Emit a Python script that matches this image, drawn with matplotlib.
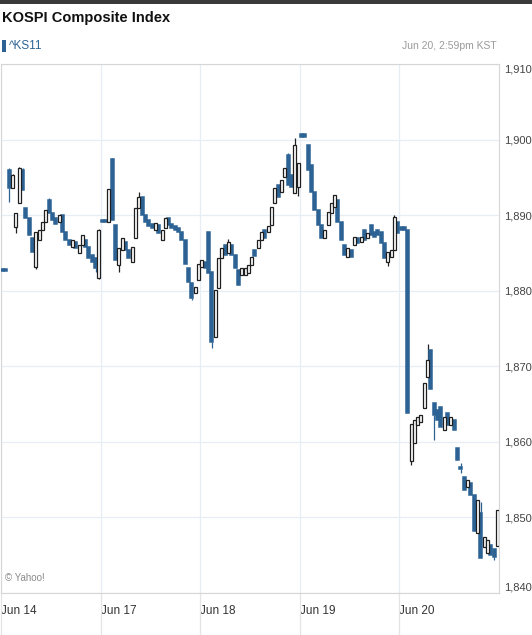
import matplotlib
matplotlib.use("Agg")
import matplotlib.pyplot as plt
from matplotlib.patches import Rectangle

# ---------------- data ----------------
days = ["Jun 14", "Jun 17", "Jun 18", "Jun 19", "Jun 20"]
yticks = [1840, 1850, 1860, 1870, 1880, 1890, 1900, 1910]

jun14_open = [1882.6, 1882.6, 1896.0, 1893.6, 1888.4, 1891.6, 1896.0, 1891.0, 1889.6, 1887.0,
              1883.1, 1886.7, 1888.0, 1889.1, 1892.0, 1890.3, 1889.6, 1889.1, 1890.0, 1887.8,
              1886.7, 1885.8, 1886.4, 1885.0, 1886.0, 1886.7, 1885.8, 1884.7, 1884.3, 1881.7]
jun14_close = [1882.6, 1882.6, 1893.6, 1895.3, 1890.3, 1896.2, 1893.3, 1889.6, 1887.4, 1885.1,
               1887.8, 1888.0, 1889.1, 1890.7, 1890.3, 1889.3, 1888.8, 1890.0, 1887.8, 1886.7,
               1886.0, 1886.7, 1885.6, 1886.0, 1887.4, 1885.8, 1884.3, 1883.8, 1883.0, 1888.0]
jun14_high = {2: 1896.2, 3: 1895.5, 5: 1896.4, 6: 1896.2, 14: 1892.3, 29: 1888.2}
jun14_low = {2: 1891.8, 4: 1887.6, 10: 1882.9, 28: 1882.5, 29: 1881.5}

jun17_open = [1889.1, 1889.1, 1889.1, 1897.4, 1888.7, 1883.4, 1885.4, 1886.4, 1885.4, 1883.8,
              1887.0, 1891.0, 1892.4, 1890.0, 1889.3, 1888.8, 1888.0, 1888.7, 1886.7, 1888.3,
              1889.6, 1888.8, 1888.5, 1888.3, 1887.8, 1886.7, 1883.0, 1881.0, 1879.7, 1881.4]
jun17_close = [1889.1, 1889.1, 1893.5, 1889.3, 1884.0, 1885.6, 1887.0, 1885.4, 1884.3, 1885.8,
               1891.0, 1892.4, 1890.0, 1889.1, 1888.5, 1888.3, 1888.9, 1887.6, 1888.0, 1889.6,
               1888.7, 1888.3, 1888.0, 1887.8, 1886.7, 1883.6, 1881.1, 1879.0, 1880.5, 1883.6]
jun17_high = {3: 1897.6, 11: 1893.0}
jun17_low = {5: 1882.5, 27: 1878.8}

jun18_open = [1883.1, 1883.8, 1887.8, 1882.5, 1873.9, 1880.3, 1884.3, 1886.0, 1885.0, 1886.0,
              1884.7, 1882.7, 1882.1, 1882.1, 1882.3, 1883.4, 1885.4, 1885.6, 1886.7, 1888.0,
              1887.8, 1888.7, 1891.6, 1894.0, 1893.0, 1895.0, 1898.0, 1895.3, 1892.9, 1893.7]
jun18_close = [1884.1, 1883.0, 1882.3, 1873.2, 1880.1, 1884.3, 1885.6, 1884.7, 1886.4, 1884.7,
               1883.0, 1880.7, 1883.0, 1883.0, 1883.4, 1884.4, 1884.6, 1886.7, 1887.8, 1887.0,
               1888.5, 1891.1, 1893.6, 1892.4, 1894.6, 1896.2, 1894.0, 1893.7, 1899.3, 1896.9]
jun18_high = {8: 1886.9, 26: 1898.2, 28: 1900.2}
jun18_low = {3: 1872.4, 29: 1892.5}

jun19_open = [1900.4, 1900.4, 1899.3, 1896.6, 1893.1, 1890.7, 1888.7, 1887.0, 1888.7, 1890.3,
              1891.1, 1892.0, 1889.1, 1886.0, 1884.4, 1885.4, 1886.0, 1887.0, 1886.4, 1888.0,
              1887.0, 1888.7, 1887.8, 1888.0, 1887.8, 1886.3, 1883.8, 1884.4, 1885.4, 1889.1]
jun19_close = [1900.4, 1900.4, 1896.0, 1893.0, 1890.7, 1888.7, 1887.0, 1888.0, 1890.4, 1891.6,
               1892.6, 1889.1, 1886.7, 1884.7, 1885.6, 1884.4, 1887.1, 1886.3, 1887.1, 1886.7,
               1887.6, 1887.4, 1887.1, 1887.4, 1886.3, 1884.3, 1885.1, 1885.4, 1889.7, 1887.6]
jun19_high = {28: 1890.0}
jun19_low = {26: 1883.3}

jun20_open = [1888.1, 1888.1, 1888.1, 1857.5, 1859.8, 1862.2, 1862.6, 1864.5, 1868.6, 1872.1,
              1865.1, 1864.2, 1864.6, 1861.6, 1863.8, 1862.2, 1862.9, 1859.2, 1856.6, 1855.3,
              1854.0, 1854.6, 1853.0, 1848.0, 1850.6, 1846.1, 1845.3, 1846.4, 1845.8, 1846.2]
jun20_close = [1888.1, 1888.1, 1863.8, 1862.4, 1862.9, 1863.3, 1863.5, 1867.8, 1870.8, 1867.0,
               1863.6, 1862.9, 1862.0, 1863.3, 1862.2, 1863.3, 1861.6, 1857.6, 1856.4, 1853.6,
               1855.0, 1853.0, 1848.2, 1852.3, 1844.6, 1847.4, 1847.0, 1845.0, 1844.8, 1851.0]
jun20_high = {8: 1873.0, 18: 1857.2, 24: 1852.0}
jun20_low = {3: 1857.0, 10: 1860.2, 18: 1855.9, 28: 1844.4}

opens = [jun14_open, jun17_open, jun18_open, jun19_open, jun20_open]
closes = [jun14_close, jun17_close, jun18_close, jun19_close, jun20_close]
highs = [jun14_high, jun17_high, jun18_high, jun19_high, jun20_high]
lows = [jun14_low, jun17_low, jun18_low, jun19_low, jun20_low]

# ---------------- style ----------------
BLUE = "#2d6394"
FONT = ["Liberation Sans Narrow", "Liberation Sans", "DejaVu Sans"]
plt.rcParams["font.family"] = FONT

W, H = 532, 635
fig = plt.figure(figsize=(W / 100, H / 100), dpi=100)
fig.patch.set_facecolor("white")

def fx(px):
    return px / W

def fy(py):
    return 1 - py / H

ax = fig.add_axes([fx(1), fy(593), fx(499) - fx(1), fy(64) - fy(593)])
ax.set_xlim(0, 5)
ax.set_ylim(1840, 1910)

n_per_day = len(jun14_open)
bw = 0.9 / n_per_day
for d in range(len(days)):
    for i, (o, c) in enumerate(zip(opens[d], closes[d])):
        x = d + (i + 0.5) / n_per_day
        up = c > o
        lo_b, hi_b = min(o, c), max(o, c)
        h = highs[d].get(i, hi_b)
        l = lows[d].get(i, lo_b)
        wick_col = "#222222" if up else BLUE
        if h > hi_b:
            ax.vlines(x, hi_b, h, color=wick_col, lw=0.9, zorder=3)
        if l < lo_b:
            ax.vlines(x, l, lo_b, color=wick_col, lw=0.9, zorder=3)
        height = max(hi_b - lo_b, 0.3)
        if up:
            ax.bar(x, height, bottom=lo_b, width=bw, facecolor="white",
                   edgecolor="#1e1e1e", linewidth=0.9, zorder=5)
        else:
            ax.bar(x, height, bottom=lo_b, width=bw, facecolor=BLUE,
                   edgecolor=BLUE, linewidth=1.1, zorder=4)

# grid / axes
ax.set_yticks(yticks)
ax.set_xticks(range(len(days)))
ax.grid(True, color="#e6edf5", lw=0.9, zorder=0)
ax.set_axisbelow(True)
for s in ax.spines.values():
    s.set_color("#d6d6d6")
    s.set_linewidth(0.8)

ax.yaxis.tick_right()
ax.set_yticklabels([f"{v:,}" for v in yticks])
ax.tick_params(axis="y", length=0, pad=4, labelsize=8, labelcolor="#444444")
ylabs = ax.get_yticklabels()
ylabs[0].set_va("bottom")
ylabs[-1].set_va("top")

ax.set_xticklabels(days)
ax.tick_params(axis="x", length=0, pad=9, labelsize=8.5, labelcolor="#333333")
for t in ax.get_xticklabels():
    t.set_ha("left")

for xi in range(len(days)):
    ax.axvline(xi, ymin=-0.08, ymax=0, color="#e4e4e4", lw=0.9, clip_on=False)

ax.text(0.008, 0.028, "© Yahoo!", transform=ax.transAxes, fontsize=7,
        color="#8a8a8a", ha="left", va="center")

# header
fig.patches.append(Rectangle((0, fy(4)), 1, 4 / H, transform=fig.transFigure,
                             facecolor="#3a3a3a", edgecolor="none"))
fig.text(fx(2), fy(18), "KOSPI Composite Index", fontsize=10.5, fontweight="bold",
         color="#111111", ha="left", va="center")
fig.patches.append(Rectangle((fx(2), fy(52)), fx(4), 12 / H, transform=fig.transFigure,
                             facecolor=BLUE, edgecolor="none"))
fig.text(fx(9), fy(46), "^KS11", fontsize=8.5, color=BLUE, ha="left", va="center")
fig.text(fx(497), fy(46), "Jun 20, 2:59pm KST", fontsize=7.5, color="#9a9a9a",
         ha="right", va="center")

fig.savefig("out.png", dpi=100, facecolor="white")
